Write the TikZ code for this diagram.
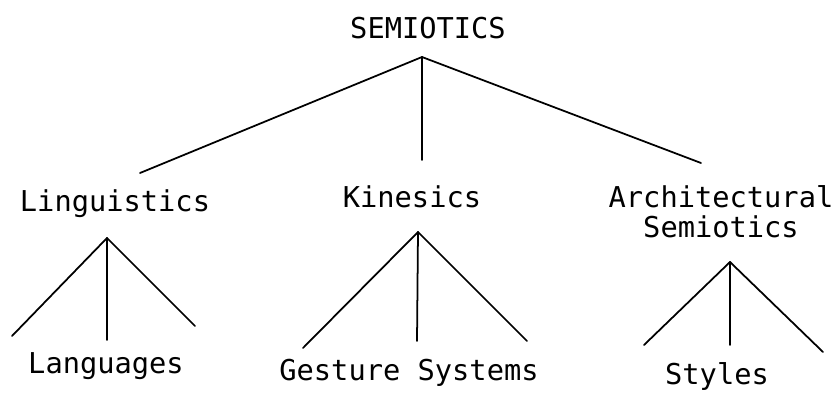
\documentclass[tikz,border=0pt]{standalone}
\usepackage{fontspec}
\setmonofont{DejaVu Sans Mono}
\usepackage{tikz}
\usetikzlibrary{positioning, calc}

\begin{document}
\begin{tikzpicture}[x=0.03cm, y=-0.03cm,
  termo/.style={inner sep=0pt, anchor=base, align=center,
                font=\ttfamily\fontsize{24.5}{25.6}\selectfont},
  ramo/.style={line width=1.5pt, line cap=round, line join=round}]
% --- AREA FIXA DO DESENHO ---
\useasboundingbox (0,0) rectangle (834,393);

% LAYER 1: Raiz
\node[termo] (semiotica) at (428,38) {SEMIOTICS};
\coordinate (topoRaiz) at (422,57);
\coordinate (fimLing) at (140,173);
\coordinate (fimKin) at (422,160);
\coordinate (fimArq) at (701,163);
\draw[ramo] (topoRaiz) -- (fimLing);
\draw[ramo] (topoRaiz) -- (fimKin);
\draw[ramo] (topoRaiz) -- (fimArq);

% LAYER 2: Ramos
\node[termo] (linguistica) at (115,211) {Linguistics};
\node[termo] (cinesica) at (412,207) {Kinesics};
\node[termo] (arquitetura) at (721,237) {Architectural\\Semiotics};

% LAYER 3: Forquilhas
\coordinate (topoLing) at (107,238);
\coordinate (topoKin) at (418,232);
\coordinate (topoArq) at (730,262);
\foreach \t/\a/\b/\c in {topoLing/{12,336}/{107,340}/{195,326},
                         topoKin/{303,348}/{417,341}/{527,341},
                         topoArq/{644,345}/{730,345}/{823,352}} {
  \draw[ramo] (\t) -- (\a);
  \draw[ramo] (\t) -- (\b);
  \draw[ramo] (\t) -- (\c);
}

% LAYER 4: Folhas
\node[termo] (linguas) at (106,373) {Languages};
\node[termo] (gestos) at (409,380) {Gesture Systems};
\node[termo] (estilos) at (717,384) {Styles};
\end{tikzpicture}
\end{document}
